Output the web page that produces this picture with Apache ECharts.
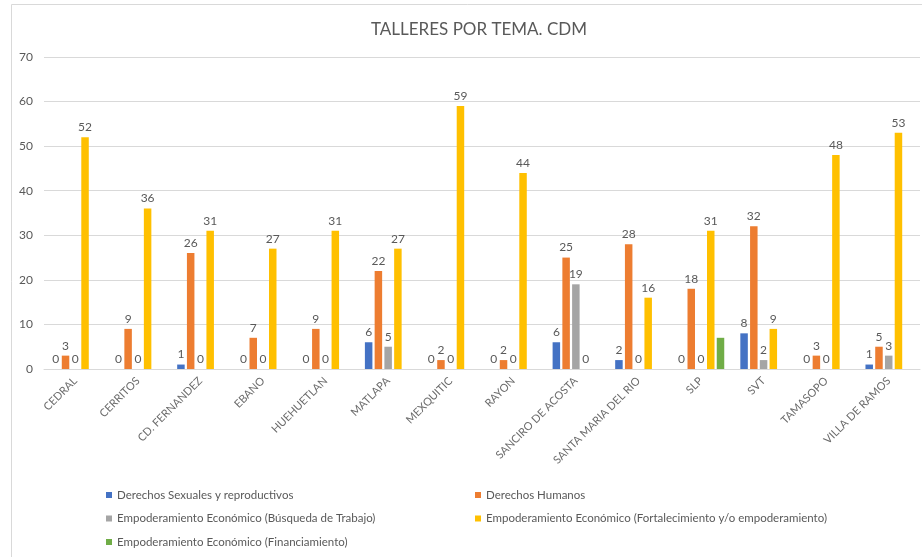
<!DOCTYPE html>
<html>
<head>
<meta charset="utf-8">
<script src="https://cdn.jsdelivr.net/npm/echarts@6/dist/echarts.min.js"></script>
<style>
  html, body { margin: 0; padding: 0; background: #fff; }
  #chart { width: 922px; height: 557px; }
</style>
</head>
<body>
<div id="chart"></div>
<script>
  // municipios
  const categories = ['CEDRAL', 'CERRITOS', 'CD. FERNANDEZ', 'EBANO', 'HUEHUETLAN', 'MATLAPA', 'MEXQUITIC',
    'RAYON', 'SANCIRO DE ACOSTA', 'SANTA MARIA DEL RIO', 'SLP', 'SVT', 'TAMASOPO', 'VILLA DE RAMOS'];

  const derechosSexuales = [0, 0, 1, 0, 0, 6, 0, 0, 6, 2, 0, 8, 0, 1];
  const derechosHumanos = [3, 9, 26, 7, 9, 22, 2, 2, 25, 28, 18, 32, 3, 5];
  const busquedaTrabajo = [0, 0, 0, 0, 0, 5, 0, 0, 19, 0, 0, 2, 0, 3];
  const fortalecimiento = [52, 36, 31, 27, 31, 27, 59, 44, 0, 16, 31, 9, 48, 53];
  const financiamiento = [null, null, null, null, null, null, null, null, null, null, 7, null, null, null];

  const yTicks = [0, 10, 20, 30, 40, 50, 60, 70];

  const txt = '#595959';
  const font = 'Lato, "Open Sans", sans-serif';

  const names = [
    'Derechos Sexuales y reproductivos',
    'Derechos Humanos',
    'Empoderamiento Económico (Búsqueda de Trabajo)',
    'Empoderamiento Económico (Fortalecimiento y/o empoderamiento)',
    'Empoderamiento Económico (Financiamiento)'
  ];
  const colors = ['#4472C4', '#ED7D31', '#A5A5A5', '#FFC000', '#70AD47'];
  const values = [derechosSexuales, derechosHumanos, busquedaTrabajo, fortalecimiento, financiamiento];

  const series = values.map((v, i) => ({
    name: names[i],
    type: 'bar',
    data: v,
    barWidth: 7.5,
    barGap: '30%',
    itemStyle: { color: colors[i] },
    label: {
      show: i < 4,   // la serie de financiamiento no lleva etiqueta
      position: 'top',
      distance: 4,
      color: txt,
      fontSize: 12,
      fontFamily: font
    }
  }));

  const legendText = { color: txt, fontSize: 11.5, fontFamily: font };

  const option = {
    animation: false,
    color: colors,
    title: {
      text: 'TALLERES POR TEMA. CDM',
      left: 474,
      top: 16,
      textAlign: 'center',
      textStyle: { color: txt, fontSize: 17, fontWeight: 'normal', fontFamily: font }
    },
    graphic: [{
      type: 'rect',
      shape: { x: 11.5, y: 4.5, width: 940, height: 580 },
      style: { fill: 'none', stroke: '#d9d9d9', lineWidth: 1 },
      silent: true
    }],
    legend: [{
      left: 101,
      top: 484,
      orient: 'vertical',
      itemWidth: 6,
      itemHeight: 6,
      itemGap: 11.5,
      icon: 'rect',
      textStyle: legendText,
      data: [names[0], names[2], names[4]]
    }, {
      left: 470,
      top: 484,
      orient: 'vertical',
      itemWidth: 6,
      itemHeight: 6,
      itemGap: 11.5,
      icon: 'rect',
      textStyle: legendText,
      data: [names[1], names[3]]
    }],
    grid: {
      left: 44,
      right: 2,
      top: 57,
      bottom: 557 - 369
    },
    xAxis: {
      type: 'category',
      data: categories,
      axisLine: { lineStyle: { color: '#d9d9d9' } },
      axisTick: { show: false },
      axisLabel: {
        rotate: 45,
        interval: 0,
        margin: 10,
        color: '#6b6b6b',
        fontSize: 11,
        fontFamily: font
      }
    },
    yAxis: {
      type: 'value',
      min: yTicks[0],
      max: yTicks[yTicks.length - 1],
      interval: 10,
      axisLine: { show: false },
      axisTick: { show: false },
      splitLine: { lineStyle: { color: '#d9d9d9' } },
      axisLabel: { color: txt, fontSize: 12, fontFamily: font, margin: 11 }
    },
    series: series
  };

  const myChart = echarts.init(document.getElementById('chart'));
  myChart.setOption(option);
</script>
</body>
</html>
